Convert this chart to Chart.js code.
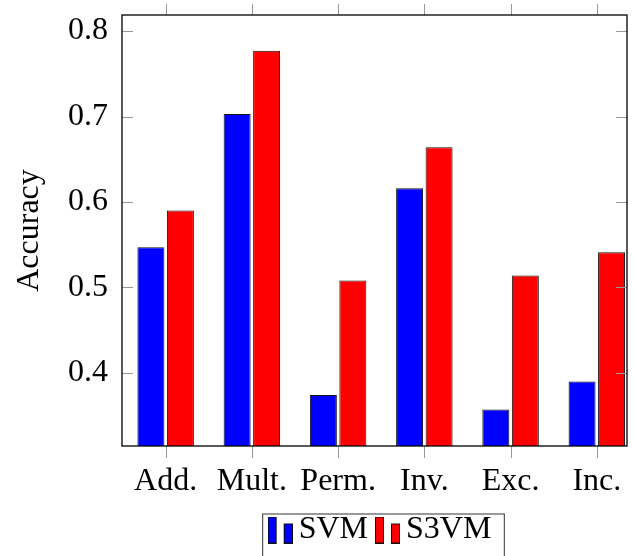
<!DOCTYPE html>
<html>
<head>
<meta charset="utf-8">
<script src="https://cdn.jsdelivr.net/npm/chart.js@4/dist/chart.umd.min.js"></script>
<style>body{margin:0;background:#fff}</style>
</head>
<body>
<div style="width:634px;height:556px"><canvas id="accChart"></canvas></div>
<script>
const categories = ['Add.', 'Mult.', 'Perm.', 'Inv.', 'Exc.', 'Inc.'];
const svmAcc = [0.547, 0.703, 0.374, 0.616, 0.357, 0.390];
const s3vmAcc = [0.590, 0.777, 0.508, 0.664, 0.514, 0.541];
const yTicks = [0.4, 0.5, 0.6, 0.7, 0.8];

const FONT = '"Liberation Serif", "Times New Roman", serif';
const FSIZE = 32;

// small legend icon: a tall and a short bar, like pgfplots' ybar legend
function barIcon(color) {
  const c = document.createElement('canvas');
  c.width = 25; c.height = 27;
  const g = c.getContext('2d');
  g.fillStyle = color;
  g.strokeStyle = '#111';
  g.lineWidth = 1;
  g.fillRect(0.5, 0.5, 8, 26); g.strokeRect(0.5, 0.5, 8, 26);
  g.fillRect(16.5, 7.5, 8, 19); g.strokeRect(16.5, 7.5, 8, 19);
  return c;
}

// frame, tick marks and legend border
const framePlugin = {
  id: 'frame',
  afterLayout(chart) {
    // nudge the legend a bit to the right, as in the original figure
    chart.legend.left += 10;
    chart.legend.right += 10;
  },
  afterDraw(chart) {
    const { ctx, chartArea: a, scales } = chart;
    ctx.save();
    ctx.strokeStyle = '#999';
    ctx.lineWidth = 1;
    ctx.beginPath();
    yTicks.forEach(v => {
      const y = Math.round(scales.y.getPixelForValue(v)) + 0.5;
      ctx.moveTo(a.left, y); ctx.lineTo(a.left + 11, y);
      ctx.moveTo(a.right - 11, y); ctx.lineTo(a.right, y);
    });
    categories.forEach((_, i) => {
      const x = Math.round(scales.x.getPixelForValue(i)) + 0.5;
      ctx.moveTo(x, a.bottom); ctx.lineTo(x, a.bottom + 12);
      ctx.moveTo(x, a.top - 11); ctx.lineTo(x, a.top);
    });
    ctx.stroke();
    ctx.strokeStyle = '#000';
    ctx.lineWidth = 1.3;
    ctx.strokeRect(a.left, a.top, a.right - a.left, a.bottom - a.top);
    const boxes = chart.legend.legendHitBoxes;
    if (boxes && boxes.length) {
      const l = Math.min(...boxes.map(b => b.left)) - 15;
      const r = Math.max(...boxes.map(b => b.left + b.width)) + 13;
      const t = Math.min(...boxes.map(b => b.top));
      ctx.strokeStyle = '#555';
      ctx.lineWidth = 1.2;
      ctx.strokeRect(l, t, r - l, 60);
    }
    ctx.restore();
  }
};

new Chart(document.getElementById('accChart'), {
  type: 'bar',
  data: {
    datasets: [
      {
        label: 'SVM',
        data: svmAcc.map((v, i) => ({ x: i, y: v })),
        backgroundColor: '#0000ff',
        borderColor: '#111',
        borderWidth: 1,
        pointStyle: barIcon('#0000ff')
      },
      {
        label: 'S3VM',
        data: s3vmAcc.map((v, i) => ({ x: i, y: v })),
        backgroundColor: '#ff0000',
        borderColor: '#111',
        borderWidth: 1,
        pointStyle: barIcon('#ff0000')
      }
    ]
  },
  options: {
    responsive: true,
    maintainAspectRatio: false,
    animation: false,
    layout: { padding: { top: 15, right: 7, left: 0, bottom: 0 } },
    datasets: { bar: { categoryPercentage: 0.684, barPercentage: 0.915 } },
    plugins: {
      legend: {
        position: 'bottom',
        fullSize: false,
        labels: {
          usePointStyle: true,
          pointStyleWidth: 5,
          boxHeight: 27,
          padding: 17,
          color: '#000',
          font: { family: FONT, size: FSIZE }
        }
      },
      tooltip: { enabled: false }
    },
    scales: {
      x: {
        type: 'linear',
        offset: false,
        min: -0.506,
        max: 5.35,
        grid: { display: false },
        border: { display: false },
        afterBuildTicks: s => { s.ticks = categories.map((_, i) => ({ value: i })); },
        afterFit: s => { s.height = 51; s.paddingLeft = 0; s.paddingRight = 0; },
        ticks: {
          padding: 8,
          maxRotation: 0,
          autoSkip: false,
          color: '#000',
          font: { family: FONT, size: FSIZE },
          callback: v => categories[v] ?? ''
        }
      },
      y: {
        min: 0.3144,
        max: 0.8188,
        grid: { display: false },
        border: { display: false },
        afterBuildTicks: s => { s.ticks = yTicks.map(v => ({ value: v })); },
        afterFit: s => { s.width = 122; s.paddingTop = 0; s.paddingBottom = 0; },
        ticks: {
          padding: 6,
          color: '#000',
          font: { family: FONT, size: FSIZE },
          callback: v => v.toFixed(1)
        },
        title: {
          display: true,
          text: 'Accuracy',
          color: '#000',
          padding: { top: 10, bottom: 0 },
          font: { family: FONT, size: FSIZE }
        }
      }
    }
  },
  plugins: [framePlugin]
});
</script>
</body>
</html>
